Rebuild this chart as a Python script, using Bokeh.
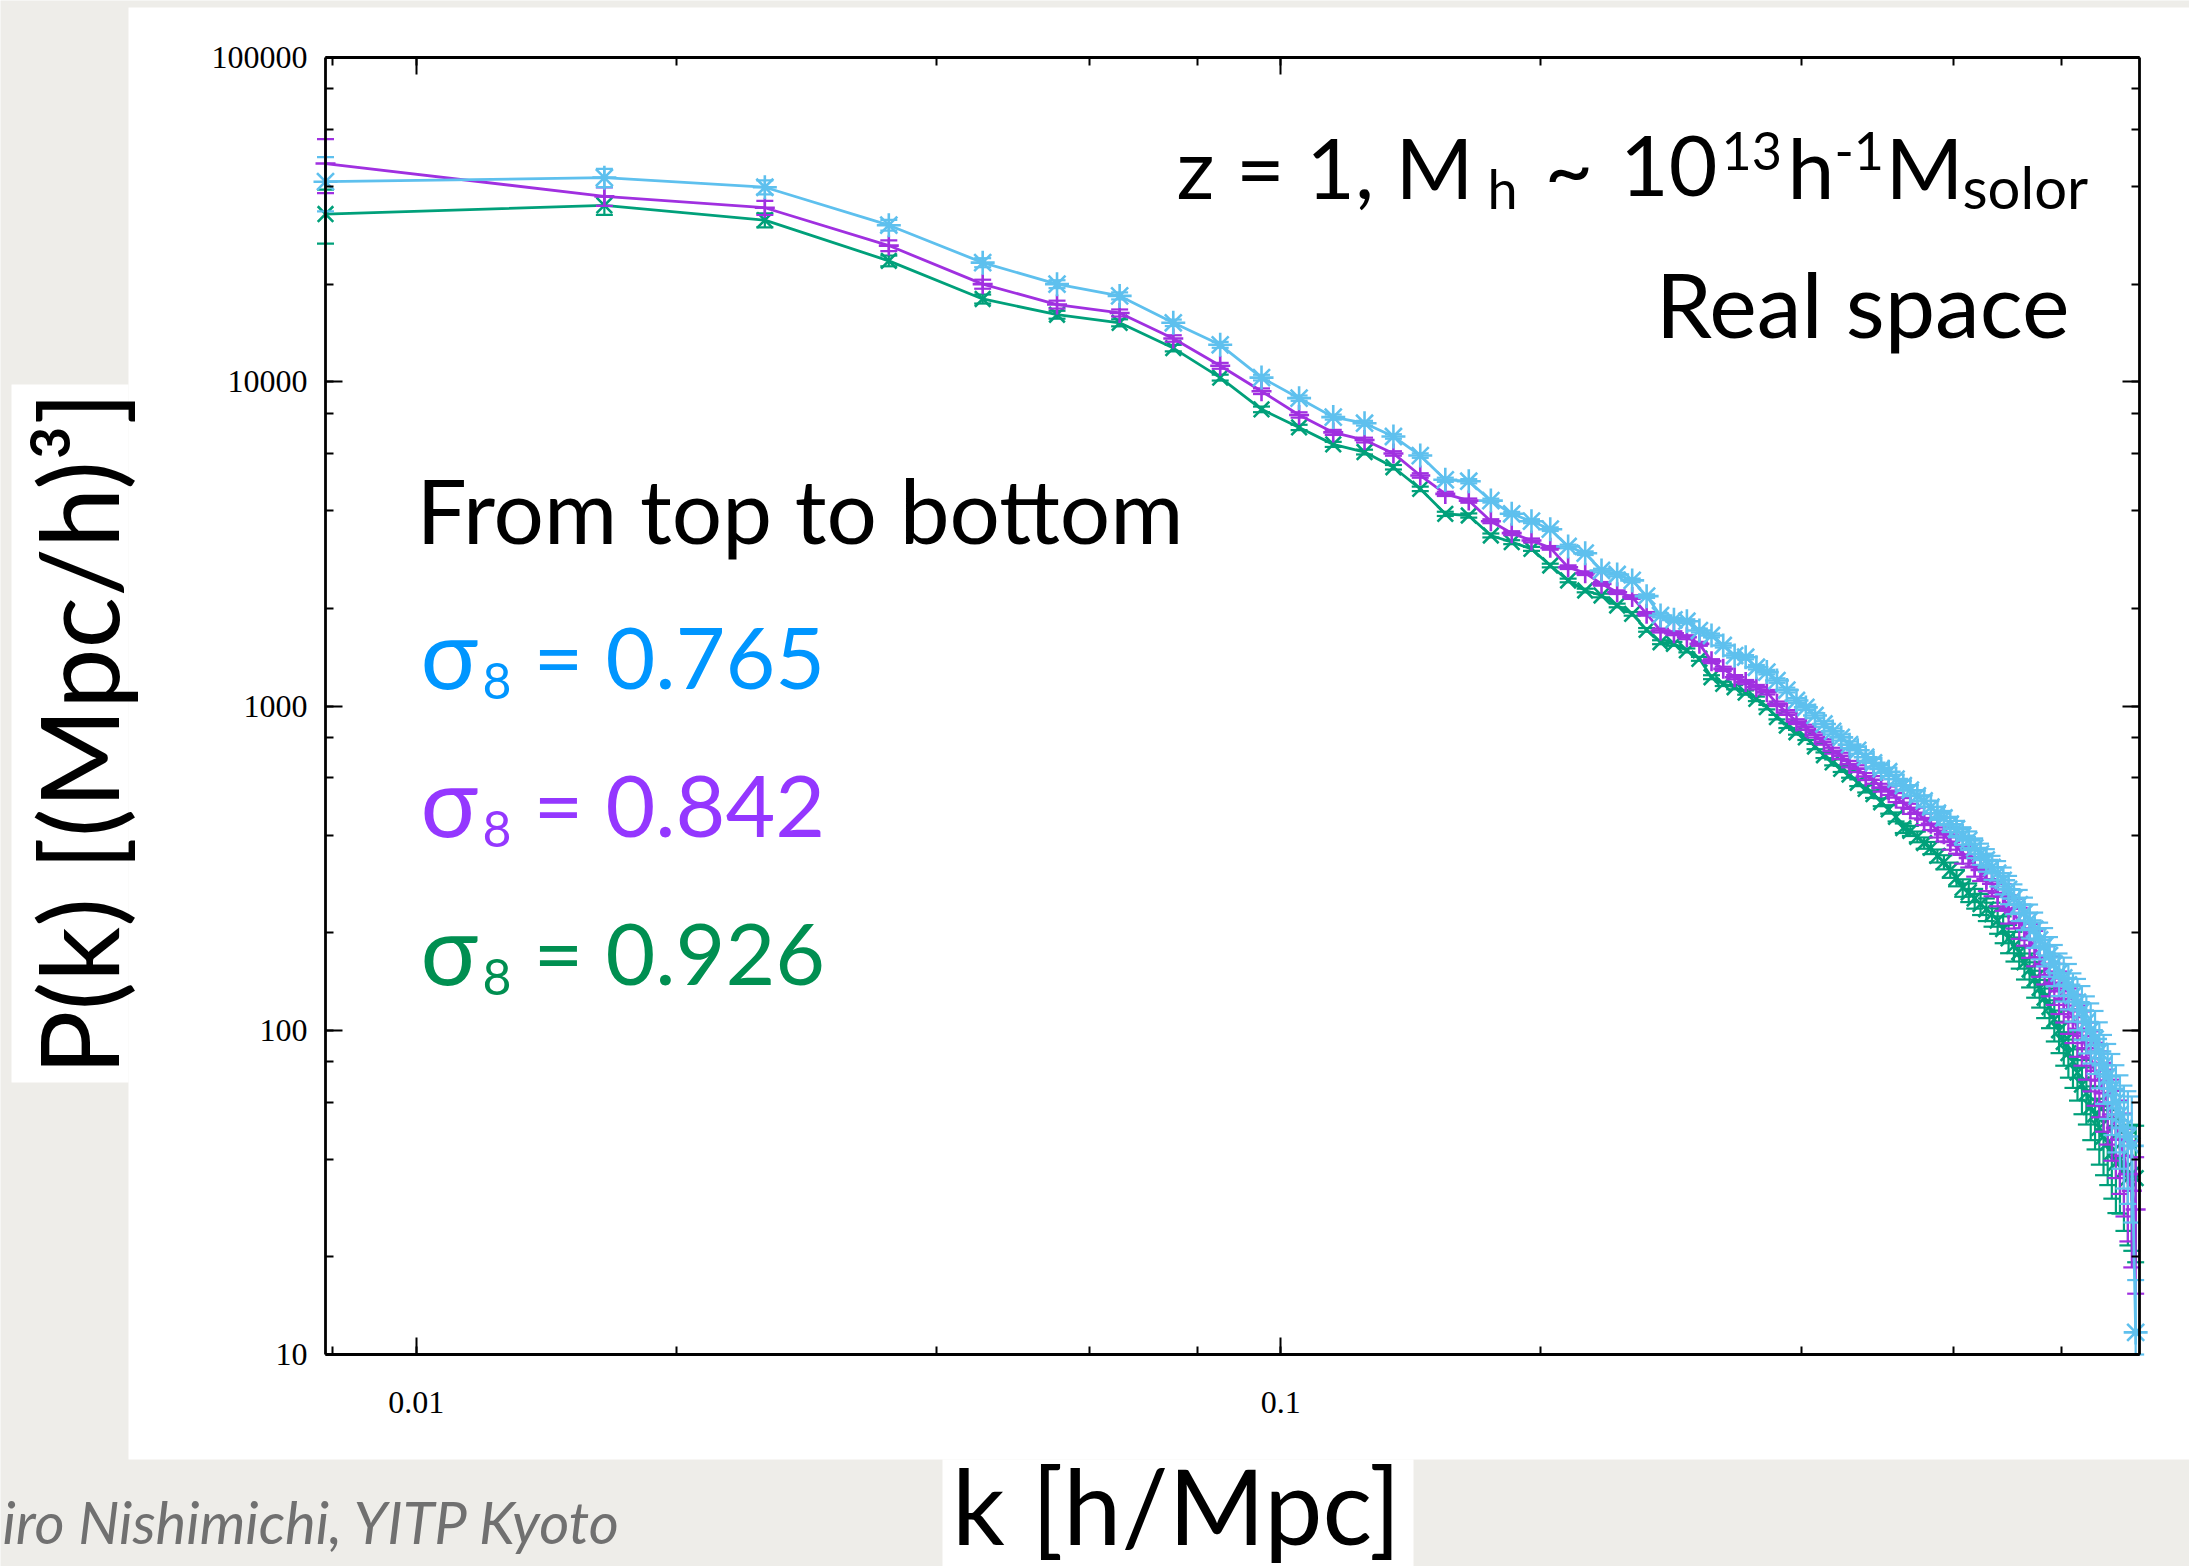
import math
from bokeh.plotting import figure
from bokeh.models import (LogAxis, LogTicker, CustomJSTickFormatter, Label,
                          BoxAnnotation, ColumnDataSource, Range1d)
from bokeh.embed import file_html
from bokeh.resources import INLINE

# ---------------- data ----------------
k_hmpc = [
    0.00785, 0.0165, 0.0253, 0.0352, 0.0452, 0.0551, 0.0651, 0.0751, 0.0851, 0.0950,
    0.105, 0.115, 0.125, 0.135, 0.145, 0.155, 0.165, 0.175, 0.185, 0.195,
    0.205, 0.215, 0.225, 0.235, 0.245, 0.255, 0.265, 0.275, 0.285, 0.295,
    0.305, 0.315, 0.325, 0.335, 0.345, 0.355, 0.365, 0.375, 0.385, 0.395,
    0.405, 0.415, 0.425, 0.435, 0.445, 0.455, 0.465, 0.475, 0.485, 0.495,
    0.505, 0.515, 0.525, 0.535, 0.545, 0.555, 0.565, 0.575, 0.585, 0.595,
    0.605, 0.615, 0.625, 0.635, 0.645, 0.655, 0.665, 0.675, 0.685, 0.695,
    0.705, 0.715, 0.725, 0.735, 0.745, 0.755, 0.765, 0.775, 0.785, 0.795,
    0.805, 0.815, 0.825, 0.835, 0.845, 0.855, 0.865, 0.875, 0.885, 0.895,
    0.905, 0.915, 0.925, 0.935, 0.945, 0.955, 0.965, 0.975,
]

pk_s0765 = [
    41400, 42600, 39800, 30400, 23300, 20000, 18400, 15200, 13000, 10300,
    8900, 7780, 7450, 6780, 5920, 4985, 4935, 4300, 3915, 3715,
    3510, 3105, 2960, 2617, 2544, 2440, 2182, 1902, 1844, 1826,
    1709, 1650, 1537, 1431, 1414, 1317, 1272, 1198, 1120, 1040,
    990, 935, 880, 835, 800, 760, 730, 695, 668, 640,
    627, 595, 568, 550, 528, 510, 488, 467, 452, 432,
    418, 398, 385, 365, 350, 335, 318, 305, 290, 272,
    255, 244, 230, 218, 205, 190, 182, 170, 160, 150,
    145, 138, 128, 122, 115, 106, 100, 94, 86, 78,
    72, 66, 60, 55, 50, 47, 44, 11.7,
]

pk_s0842 = [
    47100, 37300, 34400, 26300, 20000, 17300, 16300, 13600, 11200, 9350,
    7900, 6980, 6610, 6010, 5140, 4510, 4300, 3715, 3412, 3240,
    3074, 2680, 2568, 2381, 2244, 2167, 1924, 1709, 1677, 1630,
    1555, 1375, 1302, 1227, 1185, 1143, 1103, 1016, 955, 895,
    860, 815, 775, 728, 702, 662, 641, 606, 592, 560,
    548, 522, 503, 482, 468, 447, 433, 412, 402, 381,
    372, 348, 340, 320, 312, 292, 283, 265, 258, 237,
    230, 215, 206, 190, 180, 168, 160, 148, 140, 132,
    125, 116, 110, 101, 96, 88, 82, 75, 70, 64,
    60, 55, 50, 46, 41, 36, 32, 28,
]

pk_s0926 = [
    32900, 35000, 31500, 23600, 18000, 16100, 15200, 12700, 10300, 8220,
    7230, 6410, 6070, 5450, 4674, 3914, 3868, 3357, 3201, 3052,
    2712, 2439, 2271, 2192, 2042, 1924, 1717, 1573, 1555, 1484,
    1398, 1227, 1170, 1143, 1100, 1052, 992, 924, 870, 830,
    800, 750, 705, 670, 640, 615, 580, 555, 535, 505,
    480, 455, 420, 412, 395, 378, 365, 345, 330, 312,
    295, 275, 266, 255, 245, 236, 228, 218, 205, 192,
    182, 174, 162, 154, 144, 135, 126, 118, 108, 100,
    92, 85, 80, 74, 68, 64, 58, 55, 50, 47,
    45, 42, 39, 40, 37, 35, 36, 35,
]

rel_err = [
    0.19, 0.065, 0.05, 0.038, 0.032, 0.028, 0.025, 0.023, 0.021, 0.02,
    0.019, 0.018, 0.017, 0.016, 0.016, 0.015, 0.015, 0.014, 0.014, 0.014,
    0.013, 0.013, 0.013, 0.013, 0.013, 0.013, 0.013, 0.014, 0.014, 0.014,
    0.014, 0.014, 0.015, 0.015, 0.015, 0.016, 0.016, 0.016, 0.017, 0.017,
    0.018, 0.019, 0.02, 0.021, 0.022, 0.023, 0.024, 0.025, 0.027, 0.028,
    0.03, 0.032, 0.034, 0.036, 0.038, 0.04, 0.043, 0.046, 0.05, 0.054,
    0.058, 0.062, 0.066, 0.07, 0.075, 0.08, 0.085, 0.09, 0.095, 0.1,
    0.105, 0.11, 0.115, 0.12, 0.125, 0.13, 0.135, 0.14, 0.145, 0.15,
    0.155, 0.16, 0.17, 0.18, 0.19, 0.2, 0.21, 0.22, 0.23, 0.24,
    0.26, 0.28, 0.3, 0.32, 0.35, 0.38, 0.42, 0.45,
]

series_labels = ["0.765", "0.842", "0.926"]

# ---------------- layout constants (canvas pixels) ----------------
W, H = 2189, 1566
FL, FR, FT, FB = 325, 2139, 57, 1354          # plot box on the canvas
K_MIN, K_MAX = 0.00785, 0.985
P_MIN, P_MAX = 10, 100000

# the bokeh frame covers the whole canvas; the ranges are extended so the
# plot box (where the axes sit) lands at FL..FR / FT..FB
lk0, lk1 = math.log10(K_MIN), math.log10(K_MAX)
ppx = (FR - FL) / (lk1 - lk0)
lp0, lp1 = math.log10(P_MIN), math.log10(P_MAX)
ppy = (FB - FT) / (lp1 - lp0)
x_rng = Range1d(10 ** (lk0 - FL / ppx), 10 ** (lk1 + (W - FR) / ppx))
y_rng = Range1d(10 ** (lp0 - (H - FB) / ppy), 10 ** (lp1 + FT / ppy))

p = figure(width=W, height=H, x_axis_type="log", y_axis_type="log",
           x_axis_location=None, y_axis_location=None,
           x_range=x_rng, y_range=y_rng,
           output_backend="svg", toolbar_location=None, min_border=0)
p.background_fill_color = "#eeede9"
p.border_fill_color = "#eeede9"
p.outline_line_color = None
p.grid.visible = False


def box(cx0, cy0, cx1, cy1, color):
    p.add_layout(BoxAnnotation(left=cx0, right=cx1, top=H - cy0, bottom=H - cy1,
                               left_units="screen", right_units="screen",
                               top_units="screen", bottom_units="screen",
                               fill_color=color, fill_alpha=1.0, line_color=None,
                               level="underlay"))


BASE_FIX = 0.375  # alphabetic baseline correction (fraction of font size)


def lab(text, cx, cy, size, color="black", align="left", angle=0.0,
        font="Lato", style="normal", fix=True):
    y = H - cy + (BASE_FIX * size if fix else 0)
    p.add_layout(Label(x=cx, y=y, x_units="screen", y_units="screen",
                       text=text, text_font_size=f"{size}px", text_color=color,
                       text_align=align, text_baseline="alphabetic", angle=angle,
                       text_font=font, text_font_style=style))


# white panels
box(128, 7, W, 1459, "white")
box(11, 384, 128, 1082, "white")
box(942, 1459, 1413, H, "white")

# ---------------- axes (library axes pinned to the plot box) ----------------
fmt = CustomJSTickFormatter(code="return Number(tick.toPrecision(6)).toString();")
blank = CustomJSTickFormatter(code="return '';")

bottom_ax = LogAxis(ticker=LogTicker(), formatter=fmt, fixed_location=P_MIN, bounds=(K_MIN, K_MAX))
top_ax = LogAxis(ticker=LogTicker(), formatter=blank, fixed_location=P_MAX, bounds=(K_MIN, K_MAX))
left_ax = LogAxis(ticker=LogTicker(), formatter=fmt, fixed_location=K_MIN, bounds=(P_MIN, P_MAX))
right_ax = LogAxis(ticker=LogTicker(), formatter=blank, fixed_location=K_MAX, bounds=(P_MIN, P_MAX))
p.add_layout(bottom_ax, "below")
p.add_layout(top_ax, "above")
p.add_layout(left_ax, "left")
p.add_layout(right_ax, "right")

for ax in [bottom_ax, top_ax, left_ax, right_ax]:
    ax.major_tick_in = 17
    ax.major_tick_out = 0
    ax.minor_tick_in = 8
    ax.minor_tick_out = 0
    ax.axis_line_width = 2.8
    ax.axis_line_color = "black"
    ax.major_tick_line_width = 2
    ax.minor_tick_line_width = 2
    ax.major_label_text_font = "Liberation Serif"
    ax.major_label_text_font_size = "32px"
    ax.major_label_text_color = "black"
bottom_ax.major_label_standoff = 37
left_ax.major_label_standoff = 18
top_ax.major_label_standoff = 0
right_ax.major_label_standoff = 0

# ---------------- data glyphs ----------------
colors = {"0.926": "#00a07a", "0.842": "#a030e0", "0.765": "#5ec0ee"}
markers = {"0.926": ("x", 22), "0.842": ("cross", 20), "0.765": ("asterisk", 24)}
values = {"0.765": pk_s0765, "0.842": pk_s0842, "0.926": pk_s0926}

for name in ["0.926", "0.842", "0.765"]:
    pk = values[name]
    lo = [max(v * (1 - e), P_MIN) for v, e in zip(pk, rel_err)]
    hi = [v * (1 + e) for v, e in zip(pk, rel_err)]
    src = ColumnDataSource(dict(k=k_hmpc, pk=pk, lo=lo, hi=hi))
    c = colors[name]
    p.line("k", "pk", source=src, line_color=c, line_width=2.8)
    p.segment(x0="k", y0="lo", x1="k", y1="hi", source=src, line_color=c, line_width=2.2)
    p.scatter("k", "lo", source=src, marker="dash", size=17, line_color=c, line_width=2.2)
    p.scatter("k", "hi", source=src, marker="dash", size=17, line_color=c, line_width=2.2)
    m, s = markers[name]
    p.scatter("k", "pk", source=src, marker=m, size=s, line_color=c, fill_color=None,
              line_width=2.6)

# ---------------- texts ----------------
# title line
lab("z = 1, M", 1176, 197, 84)
lab("h", 1487, 208, 54)
lab("~", 1544, 197, 84)
lab("10", 1717, 197, 84, align="right")
lab("13", 1721, 170, 52)
lab("h", 1787, 197, 84)
lab("-1", 1834, 170, 52)
lab("M", 1885, 197, 84)
lab("solor", 1962, 208, 58)
lab("Real space", 2069, 336, 90, align="right")

lab("From top to bottom", 416, 542, 89)
text_colors = ["#0096ff", "#9437ff", "#008f51"]
baselines = [687, 835, 983]
for t, c, b in zip(series_labels, text_colors, baselines):
    lab("σ", 420, b, 96, color=c)
    lab("8", 482, b + 12, 50, color=c)
    lab("= " + t, 533, b, 86, color=c)

# axis titles
lab("P(k) [(Mpc/h)³]", 76, 733, 108, align="center", angle=math.pi / 2, fix=False)
lab("k [h/Mpc]", 1176, 1543, 104, align="center")

# footer
lab("iro Nishimichi, YITP Kyoto", 2, 1543, 58, color="#707070", style="italic")

open("out.html", "w").write(file_html(p, INLINE))
